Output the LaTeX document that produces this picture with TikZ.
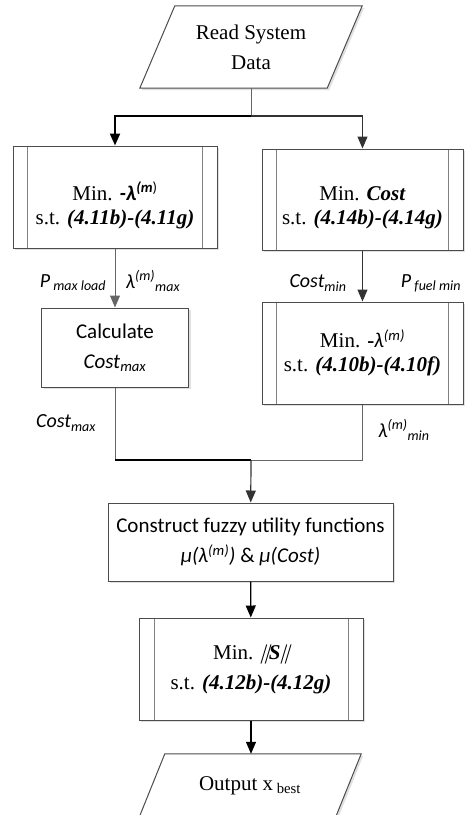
\documentclass[tikz,border=0pt]{standalone}
\usepackage{fontspec}
\setmainfont{Liberation Serif}
\newfontfamily\calibri{Carlito}
\newfontfamily\slanted[FakeSlant=0.3]{Liberation Serif}
\usetikzlibrary{
  positioning,
  arrows.meta,
  shadows,
}
\tikzset{
  >={Triangle[length=12pt,width=10pt]},
  box/.style={
    rectangle,
    draw=black!70,
    line width=1pt,
    fill=white,
    inner sep=0pt,
    align=center,
    font=\fontsize{21}{30}\selectfont,
    drop shadow={fill=black!12, opacity=1, shadow xshift=2pt, shadow yshift=-2pt},
  },
  procbox/.style={
    box,
    path picture={
      \draw[black!50, line width=1pt]
        ([xshift=#1]path picture bounding box.north west) --
        ([xshift=#1]path picture bounding box.south west)
        ([xshift=-#1]path picture bounding box.north east) --
        ([xshift=-#1]path picture bounding box.south east);
    },
  },
  procbox/.default=14.5pt,
  iobox/.style={
    rectangle,
    inner sep=0pt,
    align=center,
    font=\fontsize{21}{30}\selectfont,
  },
  io line/.style={
    draw=black!70,
    line width=1pt,
    fill=white,
    drop shadow={fill=black!12, opacity=1, shadow xshift=2pt, shadow yshift=-2pt},
  },
  calcbox/.style={
    box,
    font=\calibri\fontsize{21}{30}\selectfont,
  },
  lab/.style={
    font=\calibri\itshape\fontsize{20}{24}\selectfont,
    inner sep=0pt,
  },
  gray line/.style={draw=black!60, line width=1pt},
  dark line/.style={draw=black!80, line width=1.2pt},
  black line/.style={draw=black, line width=1.2pt},
  bold line/.style={draw=black, line width=2pt},
}

\begin{document}
\begin{tikzpicture}[x=1pt, y=-1pt]
  \useasboundingbox (0,0) rectangle (467,815);

  % input / output parallelograms
  \node[iobox, minimum width=187pt, minimum height=82pt] (read) at (251,47) {};
  \draw[io line] ([xshift=17.5pt]read.north west) -- ([xshift=17.5pt]read.north east)
    -- ([xshift=-17.5pt]read.south east) -- ([xshift=-17.5pt]read.south west) -- cycle;
  \node[iobox] (readtext) at (read) {Read System\\Data};

  \node[iobox, minimum width=196pt, minimum height=64pt] (output) at (250,786) {};
  \draw[io line] ([xshift=13pt]output.north west) -- ([xshift=13pt]output.north east)
    -- ([xshift=-13pt]output.south east) -- ([xshift=-13pt]output.south west) -- cycle;
  \node[iobox] (outputtext) at (output) {Output x\textsubscript{ best}};

  % blocks
  \node[procbox, font=\fontsize{21}{24}\selectfont,
        minimum width=204pt, minimum height=102pt] (minlam) at (115,197)
    {\rule{0pt}{35pt}Min. {\calibri\bfseries\itshape -λ}\textsuperscript{{\calibri\bfseries\itshape (m}{\calibri )}}\\
     s.t. \textbf{\textit{(4.11b)-(4.11g)}}};
  \node[procbox, font=\fontsize{21}{24}\selectfont,
        minimum width=201pt, minimum height=101pt] (mincost) at (362.5,199.5)
    {\rule{0pt}{30pt}Min. \textbf{\textit{Cost}}\\
     s.t. \textbf{\textit{(4.14b)-(4.14g)}}};
  \node[calcbox, minimum width=147pt, minimum height=79pt] (calc) at (115,347.5)
    {Calculate\\\textit{Cost}\textsubscript{\textit{max}}};
  \node[procbox, font=\fontsize{21}{24}\selectfont,
        minimum width=201pt, minimum height=102pt] (minlamb) at (362.5,353)
    {Min. \textbf{-}{\calibri\itshape λ\textsuperscript{(m)}}\\
     s.t. \textbf{\textit{(4.10b)-(4.10f)}}};
  \node[calcbox, minimum width=285pt, minimum height=78pt] (fuzzy) at (250.5,542)
    {Construct fuzzy utility functions\\
     \textit{μ(λ\textsuperscript{(m)})} \& \textit{μ(Cost)}};
  \node[procbox=15pt, minimum width=224pt, minimum height=102pt] (mins) at (251,669)
    {Min. {\slanted ||}\textbf{\textit{S}}{\slanted ||}\\
     s.t. \textbf{\textit{(4.12b)-(4.12g)}}};

  % labels
  \node[lab] (pmaxload) at (73,283) {P\textsubscript{ max load}};
  \node[lab] (lammax) at (153,281) {λ\textsuperscript{(m)}\textsubscript{max}};
  \node[lab] (costmin) at (318,283) {Cost\textsubscript{min}};
  \node[lab] (pfuelmin) at (431,283) {P\textsubscript{ fuel min}};
  \node[lab] (costmax) at (66,423) {Cost\textsubscript{max}};
  \node[lab] (lammin) at (404,430) {λ\textsuperscript{(m)}\textsubscript{min}};

  % connectors
  \coordinate (split) at (251,116);
  \coordinate (merge) at (251,460);
  \draw[gray line] (read) -- (split);
  \draw[bold line, ->] (split) -| (minlam);
  \draw[dark line, ->] (split) -| (mincost);
  \draw[gray line, ->] (minlam.south) -- (calc.north);
  \draw[dark line, ->] (mincost) -- (minlamb);
  \draw[gray line] (calc) -- (calc |- merge);
  \draw[bold line] (calc |- merge) -- (merge);
  \draw[gray line] (merge) -| (minlamb);
  \draw[dark line, ->] (merge) -- (fuzzy);
  \draw[black line, ->] (fuzzy) -- (mins);
  \draw[black line, ->] (mins.south) -- (mins.south |- output.north);
\end{tikzpicture}
\end{document}
